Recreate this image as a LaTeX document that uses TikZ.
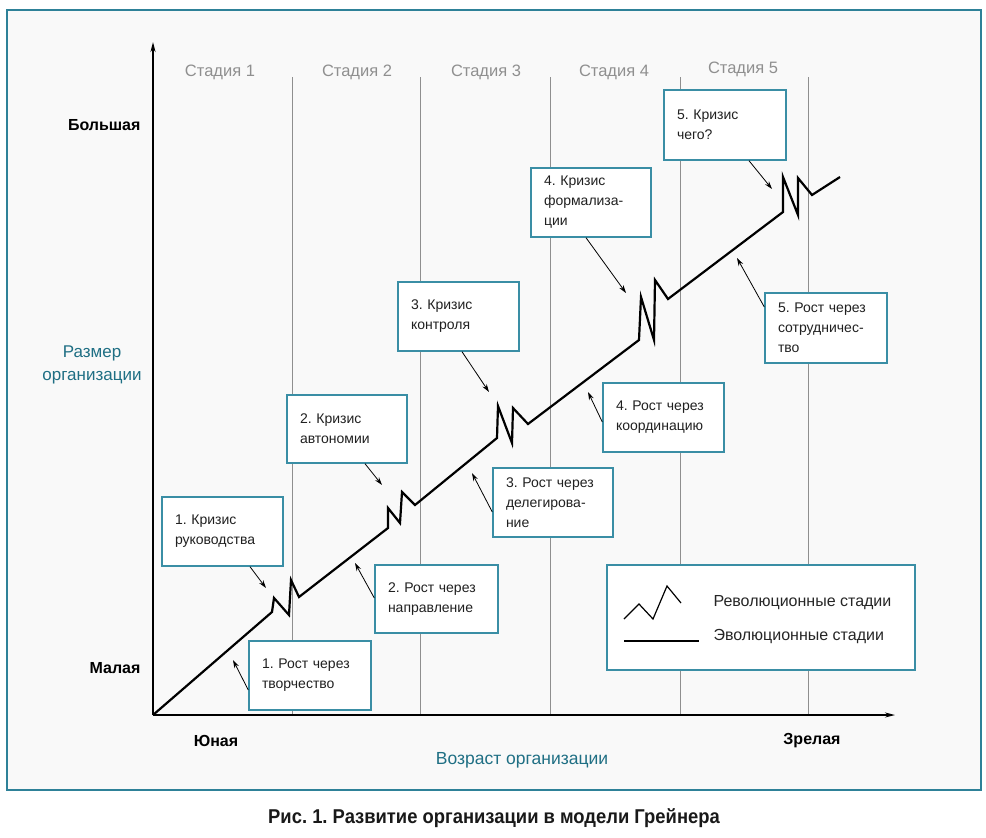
\documentclass[tikz,border=0pt]{standalone}
\usepackage{fontspec}
\setmainfont{Liberation Sans}
\newfontfamily\capfont[FakeStretch=0.92]{Liberation Sans}
\usetikzlibrary{arrows.meta,calc}
\definecolor{tealframe}{HTML}{2E8198}
\definecolor{tealbox}{HTML}{3A8EA5}
\definecolor{tealtext}{HTML}{1F6F84}
\definecolor{stagegray}{HTML}{8F8F8F}
\definecolor{bginner}{HTML}{F9F9F9}
\definecolor{boxtext}{HTML}{202020}
\frenchspacing
\tikzset{
  stagelbl/.style={text=stagegray, font=\fontsize{16.5}{19}\selectfont},
  stageline/.style={draw=stagegray, line width=0.9pt},
  axisline/.style={draw=black, line width=1.5pt, -{Stealth[length=10pt,width=5pt]}},
  growth/.style={draw=black, line width=2.2pt, line join=miter},
  ibox/.style={draw=tealbox, line width=1.4pt, fill=white, inner xsep=13pt, inner ysep=0pt,
     align=left, text=boxtext, font=\fontsize{14}{20}\selectfont, anchor=center},
  ptr/.style={draw=black, line width=0.8pt, -{Stealth[length=8pt,width=5pt]}},
  axlbl/.style={font=\bfseries\fontsize{16}{20}\selectfont, text=black},
  tlbl/.style={font=\fontsize{17}{23}\selectfont, text=tealtext, align=center},
  leglbl/.style={font=\fontsize{16}{20}\selectfont, text=black!85, anchor=west},
}
\begin{document}
\begin{tikzpicture}[x=1pt,y=-1pt]
\useasboundingbox (0,0) rectangle (986,838);
\fill[white] (0,0) rectangle (986,838);
\draw[tealframe, line width=2.2pt, fill=bginner] (7,10) rectangle (981,790);

% stage lines
\foreach \x in {292,420,550,680,808}
  \draw[stageline] (\x,77) -- (\x,715);

% stage labels
\node[stagelbl] (s1) at (220,72) {Стадия 1};
\node[stagelbl] (s2) at (357,72) {Стадия 2};
\node[stagelbl] (s3) at (486,72) {Стадия 3};
\node[stagelbl] (s4) at (614,72) {Стадия 4};
\node[stagelbl] (s5) at (743,69) {Стадия 5};

% axes
\coordinate (O) at (153,715);
\coordinate (ytip) at (153,42);
\coordinate (xtip) at (895,715);
\draw[axisline] (O) -- (ytip);
\draw[axisline] (O) -- (xtip);

% growth line
\draw[growth] (O) -- (272,612) -- (274,598) -- (289,615) -- (291,580) -- (299,597)
  -- (388,528) -- (388,508) -- (400,523) -- (402,492) -- (415,505)
  -- (497,438) -- (498,406) -- (512,443) -- (513,408) -- (528,424)
  -- (639,340) -- (641,297) -- (654,340) -- (655,280) -- (668,299)
  -- (783,212) -- (783,177) -- (798,215) -- (798,178) -- (812,195)
  -- (840,177);

% boxes
\node[ibox, minimum width=121pt, minimum height=69pt, text width=95pt] (K1) at (222.5,531.5) {1. Кризис\\руководства};
\node[ibox, minimum width=122pt, minimum height=69pt, text width=96pt] (R1) at (310,675.5) {1. Рост через\\творчество};
\node[ibox, minimum width=123pt, minimum height=68pt, text width=97pt] (R2) at (436.5,599) {2. Рост через\\направление};
\node[ibox, minimum width=120pt, minimum height=68pt, text width=94pt] (K2) at (347,429) {2. Кризис\\автономии};
\node[ibox, minimum width=120pt, minimum height=69pt, text width=94pt] (R3) at (553,502.5) {3. Рост через\\делегирова-\\ние};
\node[ibox, minimum width=121pt, minimum height=69pt, text width=95pt] (K3) at (458.5,316.5) {3. Кризис\\контроля};
\node[ibox, minimum width=121pt, minimum height=69pt, text width=95pt] (R4) at (663.5,417.5) {4. Рост через\\координацию};
\node[ibox, minimum width=120pt, minimum height=69pt, text width=94pt] (K4) at (591,202.5) {4. Кризис\\формализа-\\ции};
\node[ibox, minimum width=122pt, minimum height=70pt, text width=96pt] (K5) at (725,125) {5. Кризис\\чего?};
\node[ibox, minimum width=122pt, minimum height=70pt, text width=96pt] (R5) at (826,328) {5. Рост через\\сотрудничес-\\тво};

% pointer tips
\coordinate (t1) at (266,588);
\coordinate (r1) at (233,660);
\coordinate (r2) at (355,563);
\coordinate (t2) at (382,485);
\coordinate (r3) at (472,473);
\coordinate (t3) at (489,392);
\coordinate (r4) at (588,392);
\coordinate (t4) at (626,293);
\coordinate (t5) at (772,189);
\coordinate (r5) at (737,258);

\draw[ptr] (K1.south -| 250,0) -- (t1);
\draw[ptr] (R1.west |- 0,690) -- (r1);
\draw[ptr] (R2.west |- 0,598) -- (r2);
\draw[ptr] (K2.south -| 365,0) -- (t2);
\draw[ptr] (R3.west |- 0,512) -- (r3);
\draw[ptr] (K3.south -| 462,0) -- (t3);
\draw[ptr] (R4.west |- 0,422) -- (r4);
\draw[ptr] (K4.south -| 586,0) -- (t4);
\draw[ptr] (K5.south -| 749,0) -- (t5);
\draw[ptr] (R5.west |- 0,307) -- (r5);

% legend
\node[draw=tealbox, line width=1.4pt, fill=white, minimum width=308pt, minimum height=105pt, inner sep=0pt] (leg) at (761,617.5) {};
\draw[black, line width=1.2pt, line join=miter] (624,619) -- (639,604) -- (653,619) -- (667,586) -- (681,603);
\draw[black, line width=1.2pt] (624,641) -- (699,641);
\node[leglbl] (lg1) at (710,603) {Революционные стадии};
\node[leglbl] (lg2) at (710,637) {Эволюционные стадии};

% axis labels
\node[axlbl, anchor=east] (big) at (144,125) {Большая};
\node[axlbl, anchor=east] (small) at (144,668) {Малая};
\node[tlbl] (ysize) at (92,365) {Размер\\организации};
\node[axlbl] (young) at (216,741) {Юная};
\node[axlbl] (mature) at (812,741) {Зрелая};
\node[tlbl, font=\fontsize{17.5}{22}\selectfont] (xage) at (522,760) {Возраст организации};

% caption
\node[font=\capfont\bfseries\fontsize{20}{24}\selectfont, text=black!90] (cap) at (494,818) {Рис. 1. Развитие организации в модели Грейнера};
\end{tikzpicture}
\end{document}
